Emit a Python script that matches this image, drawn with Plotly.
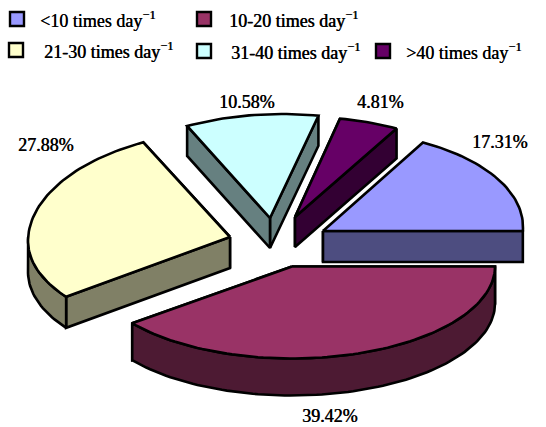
import math
import plotly.graph_objects as go

# Share of each usage class, in percent
categories = ["<10", "10-20", "21-30", "31-40", ">40"]
shares = [17.31, 39.42, 27.88, 10.58, 4.81]

top_colors = ["#9999FF", "#993366", "#FFFFCC", "#CCFFFF", "#660066"]
side_colors = ["#4D4D80", "#4D1A33", "#808066", "#668080", "#330033"]

# Exploded wedge tips and ellipse radii of the tilted pie, in page pixels
tip_x = [323, 292, 230, 270, 295]
tip_y = [231, 266.5, 237, 218, 217]
radius_x = [200, 203, 202, 202, 202]
radius_up = [100, 96, 107, 104, 100]
radius_down = [96, 92, 97, 96, 96]
depth = [31, 37, 31, 30, 30]
skew_deg = [2.3, 0.0, 2.3, 3.5, 2.5]

# Legend layout: swatch centre and text start
legend_x = [17, 204, 16, 204, 383]
legend_y = [19, 19, 50, 51, 51]
legend_text_x = [38, 227, 42, 229, 404]

# Percentage label centres
label_x = [500, 330, 46, 247, 380]
label_y = [142, 416, 145, 102, 102]

FONT = "Liberation Serif, Times New Roman, serif"
HEAVY = "0.4px 0 0 black"
LINE = 2.6

fig = go.Figure()


def project(i, theta):
    sin_t = math.sin(math.radians(theta))
    ry = radius_up[i] if sin_t > 0 else radius_down[i]
    x = tip_x[i] + radius_x[i] * math.cos(math.radians(theta - skew_deg[i]))
    y = tip_y[i] - ry * sin_t
    return x, y


def polygon(xs, ys, fill):
    fig.add_trace(go.Scatter(
        x=xs + xs[:1], y=ys + ys[:1], mode="lines", fill="toself",
        fillcolor=fill, line=dict(color="black", width=LINE),
        hoverinfo="skip", showlegend=False,
    ))


# The first wedge rises from three o'clock, the others run clockwise from there
spans = [(0.0, shares[0] * 3.6)]
start = 0.0
for value in shares[1:]:
    spans.append((start - value * 3.6, start))
    start -= value * 3.6

# Back wedges first so the nearer ones paint over them
for i in [4, 3, 2, 0, 1]:
    a0, a1 = spans[i]
    steps = max(8, int(abs(a1 - a0) / 1.5))
    thetas = [a0 + (a1 - a0) * k / steps for k in range(steps + 1)]
    arc = [project(i, t) for t in thetas]
    d = depth[i]
    tx, ty = tip_x[i], tip_y[i]

    # Two cut faces, the one lower on the page last
    ends = sorted([arc[0], arc[-1]], key=lambda p: (p[1] + ty) / 2)
    for ex, ey in ends:
        polygon([tx, ex, ex, tx], [ty, ey, ey + d, ty + d], side_colors[i])

    # Rim, only where it faces the viewer
    front = [p for t, p in zip(thetas, arc) if math.sin(math.radians(t)) <= 0.001]
    if len(front) > 1:
        xs = [p[0] for p in front] + [p[0] for p in reversed(front)]
        ys = [p[1] for p in front] + [p[1] + d for p in reversed(front)]
        polygon(xs, ys, side_colors[i])

    xs = [tx] + [p[0] for p in arc]
    ys = [ty] + [p[1] for p in arc]
    # Thin white gap where the blue wedge crosses the purple one
    if i == 0:
        fig.add_trace(go.Scatter(
            x=[xs[0], xs[-1]], y=[ys[0] - 1, ys[-1] - 1], mode="lines",
            line=dict(color="white", width=5), hoverinfo="skip", showlegend=False,
        ))
    polygon(xs, ys, top_colors[i])

# Legend swatches
for i in range(5):
    fig.add_trace(go.Scatter(
        x=[legend_x[i]], y=[legend_y[i]], mode="markers",
        marker=dict(symbol="square", size=14, color=top_colors[i],
                    line=dict(color="black", width=2.4)),
        hoverinfo="skip", showlegend=False,
    ))

annotations = []
for i, name in enumerate(categories):
    annotations.append(dict(
        x=legend_text_x[i], y=legend_y[i], xref="x", yref="y",
        text=f"{name} times day<sup>\u22121</sup>", showarrow=False,
        xanchor="left", yanchor="middle",
        font=dict(family=FONT, size=18, color="black", shadow=HEAVY),
    ))
    annotations.append(dict(
        x=label_x[i], y=label_y[i], xref="x", yref="y",
        text=f"{shares[i]:.2f}%", showarrow=False,
        xanchor="center", yanchor="middle",
        font=dict(family=FONT, size=18, color="black", shadow=HEAVY),
    ))

fig.update_layout(
    width=546, height=427, margin=dict(l=0, r=0, t=0, b=0),
    paper_bgcolor="white", plot_bgcolor="white",
    xaxis=dict(range=[0, 546], visible=False, fixedrange=True),
    yaxis=dict(range=[427, 0], visible=False, fixedrange=True),
    annotations=annotations, showlegend=False,
)

fig.write_html("out.html", config=dict(displayModeBar=False))
